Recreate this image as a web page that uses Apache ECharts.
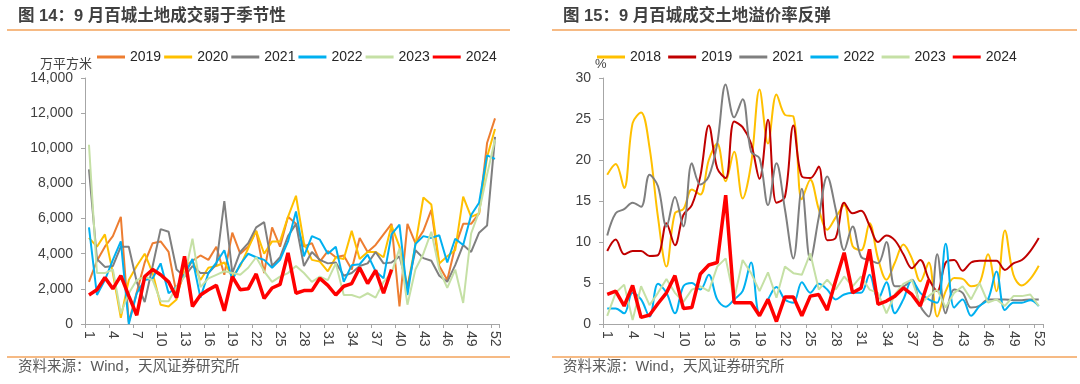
<!DOCTYPE html>
<html><head><meta charset="utf-8">
<script src="https://cdn.jsdelivr.net/npm/echarts@6/dist/echarts.min.js"></script>
<style>
html,body{margin:0;padding:0;background:#fff;width:1080px;height:384px;overflow:hidden}
#c1{position:absolute;left:0;top:0;width:540px;height:384px}
#c2{position:absolute;left:540px;top:0;width:540px;height:384px}
</style>
</head><body><div id="c1"></div><div id="c2"></div>
<script>
const weeks = ['1','2','3','4','5','6','7','8','9','10','11','12','13','14','15','16','17','18','19','20','21','22','23','24','25','26','27','28','29','30','31','32','33','34','35','36','37','38','39','40','41','42','43','44','45','46','47','48','49','50','51','52'];

// Left chart: 百城土地成交面积 (万平方米)
const L2019 = [2400,3600,4400,5000,6100,100,1800,3500,4600,4700,4100,1700,2900,3600,3900,3650,4400,2800,5200,4000,4400,5300,2900,5500,4400,6100,5700,4400,4600,3550,4150,3800,3900,3100,4900,4100,4500,5100,5700,1000,5700,4600,5300,6500,3300,2500,4400,5700,5700,6300,10300,11700];
const L2020 = [4900,4400,5100,2900,350,2500,3300,4000,2900,1100,1000,1400,3300,3600,2500,3200,3300,3500,2700,3300,4300,5300,4000,4700,4700,6100,7300,4600,3650,3550,3000,3800,3700,5300,3700,4100,4100,3800,5600,4400,2100,4500,7200,6800,3450,3850,4200,7250,6100,6300,9500,11100];
const L2021 = [8800,3700,3250,3300,4400,4400,2400,1250,3300,5400,5250,3100,2700,3300,2900,2900,3400,7000,2900,4100,4600,5500,5800,3300,3800,5000,5700,3300,4100,3650,3450,3500,2750,2900,3300,3450,4100,3450,3500,3850,2100,4200,3750,3600,2750,2400,3350,4500,4100,5200,5600,10650];
const L2022 = [5500,1650,2500,3650,4700,0,1750,2500,2600,3450,1750,2100,2800,3700,1500,2900,3500,4200,2500,3400,4000,3800,3650,3200,3650,4700,6400,3850,5000,4800,4000,4400,2400,3350,3400,3950,3000,2600,5100,5650,1650,4550,5000,4900,5050,3500,4850,4500,6200,6900,9600,9400];
const L2023 = [10200,2900,2900,3100,600,1750,2500,2700,2500,1300,1300,2100,2700,4850,2100,2600,2800,3000,2900,2800,3200,3800,3000,2400,2700,2900,3300,2900,2400,2700,2500,3450,1650,1650,1500,1750,1500,2400,2900,4300,1100,3100,4000,5250,3100,2050,3100,1200,5150,6400,8500,10500];
const L2024 = [1650,1950,2650,2000,2750,1600,500,2700,3100,2800,2400,1500,3850,1000,1650,1950,2200,750,2700,1950,2000,2850,1450,2050,2250,4050,1750,1900,1900,2600,2200,1650,2150,2300,3200,2300,3050,1750,3100];
const leftNames = ['2019','2020','2021','2022','2023','2024'];
const leftTicks = [0,2000,4000,6000,8000,10000,12000,14000];

// Right chart: 百城成交土地溢价率 (%)
const R2018 = [18.2,19.5,16.6,24.5,25.8,21.5,13,7,13.5,14,16.4,15.8,20,22,17.4,21,15.3,19.5,28.6,22,28,25.5,25.3,15.2,17.6,14,11.5,13,14.5,9.5,9,12.3,8,5.4,7.5,9.7,8,5.2,7.5,0.9,4,5.6,5.5,4.6,5,8.5,4,11.4,6,4.7,5.5,7.1];
const R2019 = [8.9,10.3,8.5,8.9,8.9,8.3,8.4,12.3,9.6,13.3,14.5,18,24.2,19,17.8,24.7,24,22,17.7,24.9,14.8,15.5,24.2,18,17.8,19.2,10.2,10.5,14.8,13.5,13.8,12,10,10.8,10.2,8.5,6.8,7.8,5.5,4,7.5,7.8,6.5,7.5,7.7,7.7,7.7,6.6,7.4,7.8,8.9,10.5];
const R2021 = [10.8,13.5,14,14.8,14.3,18.2,16.8,11.9,15.5,11.9,19.6,17,18,22,29.2,25.2,27.4,21,20.2,14.5,19.6,14,8,16.5,7.8,13,18,14,9,11.9,8.2,7.8,7.4,10,4.6,4.6,5.4,2.2,0.9,8.5,1.3,4.2,3.8,2,2.2,3,3,3,2.9,2.9,3,3];
const R2022 = [1.9,1.9,1.3,3.8,3,0.9,4.9,3.8,1.3,4.6,5,4.2,6,3,2.1,3,4,7.5,1.3,3,4.5,3,2.6,5.1,3.8,4.9,4.2,3,3.6,3.8,3.8,6,3,5.1,1.3,3,5.3,3.8,3,2.6,9.8,2,3,1,2.2,3,6.4,1.7,2.6,2.6,2.9,2.2];
const R2023 = [1,3.8,4.8,0.5,4.6,2.3,3.8,5.5,3.8,2.7,4.2,4.6,4,7,8,3,7.8,6.2,4,6.3,3.2,7,6.2,6,8.6,4.2,5.4,4.2,5.8,4.6,5.8,4.2,3.8,1.3,3.6,4.9,5.4,2.4,3.4,4.2,2,3.8,4.6,3,5,2.6,3,2.2,3.4,3.4,3.6,2.2];
const R2024 = [3.6,4,2.2,4.7,0.8,1.1,2.5,3.8,5.9,1.9,2,6.1,7.2,7.5,15.7,2.6,2.6,2.6,1,3,0.3,3.3,3.3,1,3.4,3.6,1.7,5.3,8.7,3.8,4.4,9.1,2.4,2.8,3.4,4.4,3.6,2.2,5.4];
const rightNames = ['2018','2019','2021','2022','2023','2024'];
const rightTicks = [0,5,10,15,20,25,30];

const FONT = "'Liberation Sans','Noto Sans CJK SC',sans-serif";
const RULE = '#F3A35B';

function line(name, data, color, width, smooth) {
  return {name, type:'line', data, symbol:'none', smooth: smooth ? 0.35 : false,
    lineStyle:{color, width}, itemStyle:{color}, z: width > 2.5 ? 5 : 2, animation:false};
}

function frame(titleX, title, unit, unitX, ruleX1, ruleX2) {
  return [
    {type:'text', left:titleX, top:8, style:{text:title, font:"bold 16.5px "+FONT, fill:'#404040'}},
    {type:'line', shape:{x1:ruleX1, y1:30, x2:ruleX2, y2:30}, style:{stroke:RULE, lineWidth:1.5}},
    {type:'text', left:unitX, top:58, style:{text:unit, font:"13px "+FONT, fill:'#404040'}},
    {type:'line', shape:{x1:ruleX1, y1:357, x2:ruleX2, y2:357}, style:{stroke:RULE, lineWidth:1.5}},
    {type:'text', left:titleX, top:360, style:{text:'资料来源：Wind，天风证券研究所', font:"14.5px "+FONT, fill:'#595959'}}
  ];
}

function axes(ticks, gridLeft, gridRight, fmt) {
  return {
    grid:{left:gridLeft, right:gridRight, top:78, bottom:60},
    xAxis:{type:'category', data:weeks, boundaryGap:true,
      axisLine:{lineStyle:{color:'#A6A6A6', width:1}},
      axisTick:{show:true, interval:2, length:4, lineStyle:{color:'#A6A6A6'}},
      axisLabel:{interval:2, rotate:-90, margin:7, fontSize:14, color:'#404040', fontFamily:FONT},
      splitLine:{show:false}},
    yAxis:{type:'value', min:ticks[0], max:ticks[ticks.length-1], interval:ticks[1]-ticks[0],
      axisLine:{show:true, lineStyle:{color:'#A6A6A6', width:1}},
      axisTick:{show:true, length:4, lineStyle:{color:'#A6A6A6'}},
      axisLabel:{margin:12, fontSize:14, color:'#404040', fontFamily:FONT, formatter:fmt},
      splitLine:{show:false}}
  };
}

function legend(left, gap, names, colors) {
  return {left, top:45, itemGap:gap, itemWidth:28, itemHeight:3, icon:'rect',
    textStyle:{fontSize:14, color:'#262626', fontFamily:FONT},
    data: names.map((n,i)=>({name:n, itemStyle:{color:colors[i]}}))};
}

const lc = ['#ED7D31','#FFC000','#7F7F7F','#00B0F0','#C5E0A5','#FF0000'];
const c1 = echarts.init(document.getElementById('c1'), null, {renderer:'canvas'});
c1.setOption(Object.assign(axes(leftTicks, 85, 41, v => v.toLocaleString('en-US')), {
  animation:false,
  legend: legend(92, 3, leftNames, lc),
  graphic: frame(18, '图 14：9 月百城土地成交弱于季节性', '万平方米', 40, 7, 510),
  series:[
    line('2019', L2019, lc[0], 2, false),
    line('2020', L2020, lc[1], 2, false),
    line('2021', L2021, lc[2], 2, false),
    line('2022', L2022, lc[3], 2, false),
    line('2023', L2023, lc[4], 2, false),
    line('2024', L2024, lc[5], 3.5, false)
  ]
}));

const rc = ['#FFC000','#C00000','#7F7F7F','#00B0F0','#C5E0A5','#FF0000'];
const c2 = echarts.init(document.getElementById('c2'), null, {renderer:'canvas'});
c2.setOption(Object.assign(axes(rightTicks, 63, 37, v => String(v)), {
  animation:false,
  legend: legend(52, 7, rightNames, rc),
  graphic: frame(23, '图 15：9 月百城成交土地溢价率反弹', '%', 55, 12, 537),
  series:[
    line('2018', R2018, rc[0], 2, true),
    line('2019', R2019, rc[1], 2, true),
    line('2021', R2021, rc[2], 2, true),
    line('2022', R2022, rc[3], 2, true),
    line('2023', R2023, rc[4], 2, false),
    line('2024', R2024, rc[5], 3.5, false)
  ]
}));
</script>
</body></html>
